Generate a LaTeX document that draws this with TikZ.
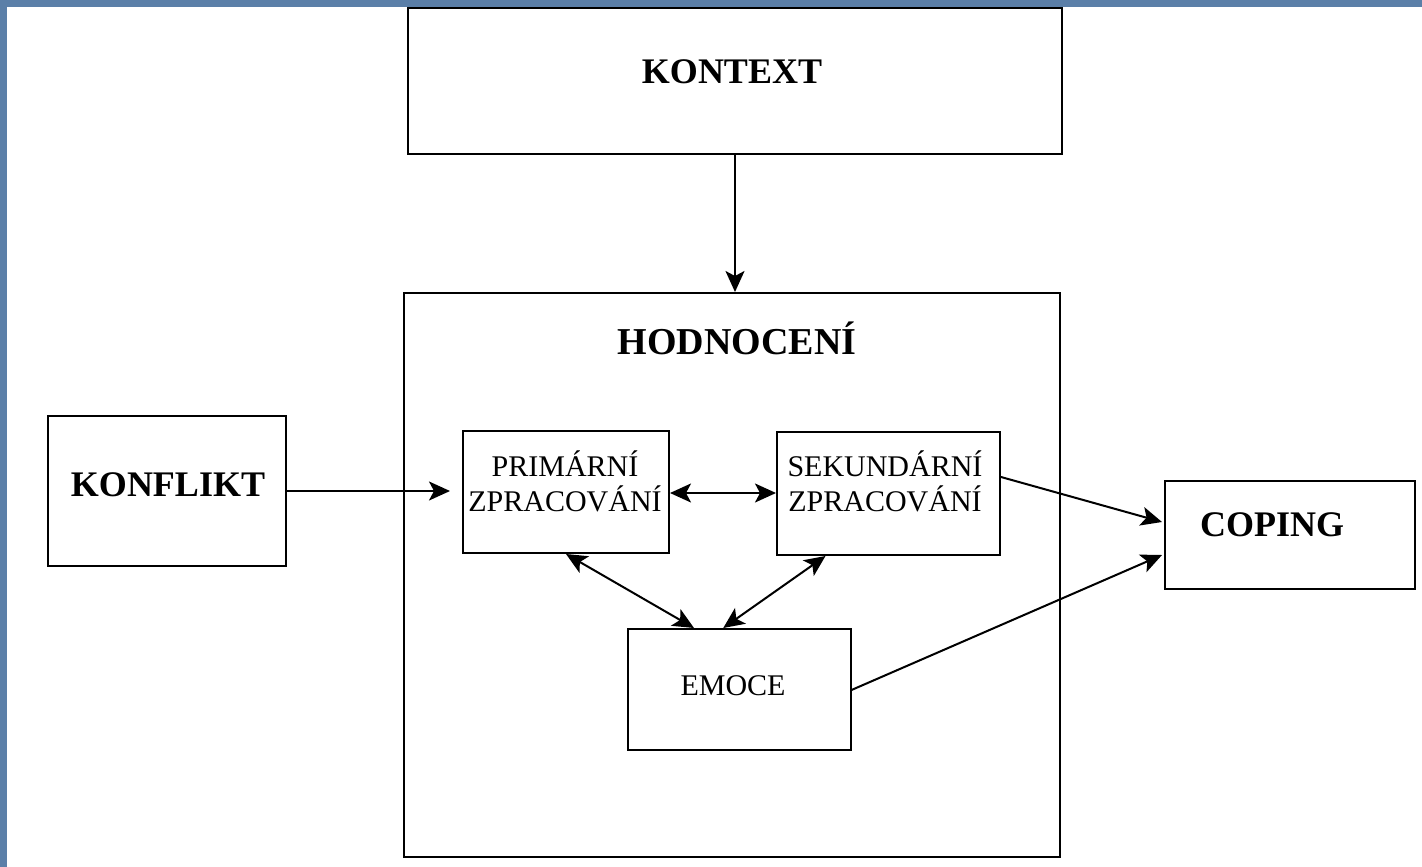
\documentclass[tikz,border=0pt]{standalone}
\usepackage{fontspec}
\setmainfont{Liberation Serif}
\usetikzlibrary{arrows.meta,calc}
\definecolor{frameblue}{HTML}{5B7FA8}
\tikzset{
  box/.style={draw=black, line width=2pt, fill=white, inner sep=0pt},
  lbl/.style={inner sep=0pt, align=center, font=\fontsize{36}{38}\bfseries\selectfont},
  slbl/.style={inner sep=0pt, align=center, font=\fontsize{30}{35}\selectfont},
  conn/.style={line width=2pt, -{Stealth[length=21pt,width=19pt,inset=5pt]}},
  dconn/.style={line width=2pt, {Stealth[length=21pt,width=19pt,inset=5pt]}-{Stealth[length=21pt,width=19pt,inset=5pt]}}
}
\begin{document}
\begin{tikzpicture}[x=1pt,y=-1pt]
\useasboundingbox (0,0) rectangle (1422,867);
\fill[frameblue] (0,0) rectangle (1422,867);
\fill[white] (7,7) rectangle (1422,867);

% boxes
\node[box, minimum width=654pt, minimum height=146pt] (kontext) at (735,81) {};
\node[box, minimum width=656pt, minimum height=564pt] (hodn) at (732,575) {};
\node[box, minimum width=238pt, minimum height=150pt] (konflikt) at (167,491) {};
\node[box, minimum width=206pt, minimum height=122pt] (prim) at (566,492) {};
\node[box, minimum width=223pt, minimum height=123pt] (sek) at (888.5,493.5) {};
\node[box, minimum width=223pt, minimum height=121pt] (emoce) at (739,689.5) {};
\node[box, minimum width=250pt, minimum height=108pt] (coping) at (1290,535) {};

% labels
\node[lbl] (kontextlbl) at (732,72) {KONTEXT};
\node[lbl, font=\fontsize{38}{40}\bfseries\selectfont] (hodnlbl) at (737,338) {HODNOCENÍ};
\node[lbl] (konfliktlbl) at (168,485) {KONFLIKT};
\node[slbl] (primlbl) at (565,481) {PRIMÁRNÍ\\ZPRACOVÁNÍ};
\node[slbl] (seklbl) at (885,481) {SEKUNDÁRNÍ\\ZPRACOVÁNÍ};
\node[slbl] (emocelbl) at (733,686) {EMOCE};
\node[lbl] (copinglbl) at (1272,525) {COPING};

% connectors
\draw[conn] (kontext.south) -- (kontext.south |- hodn.north);
\draw[conn, shorten >=12pt] (konflikt.east |- 0,491) -- (prim.west |- 0,491);
\draw[dconn] (prim.east |- 0,493) -- (sek.west |- 0,493);
\draw[dconn] (prim.south) -- ($(emoce.north west)!0.30!(emoce.north east)$);
\draw[dconn] ($(sek.south west)!0.22!(sek.south east)$) -- ($(emoce.north west)!0.43!(emoce.north east)$);
\draw[conn] (sek.east |- 0,477) -- ($(coping.west |- 0,522)+(-2,0)$);
\draw[conn] (emoce.east |- 0,690) -- ($(coping.west |- 0,555)+(-2,0)$);
\end{tikzpicture}
\end{document}
